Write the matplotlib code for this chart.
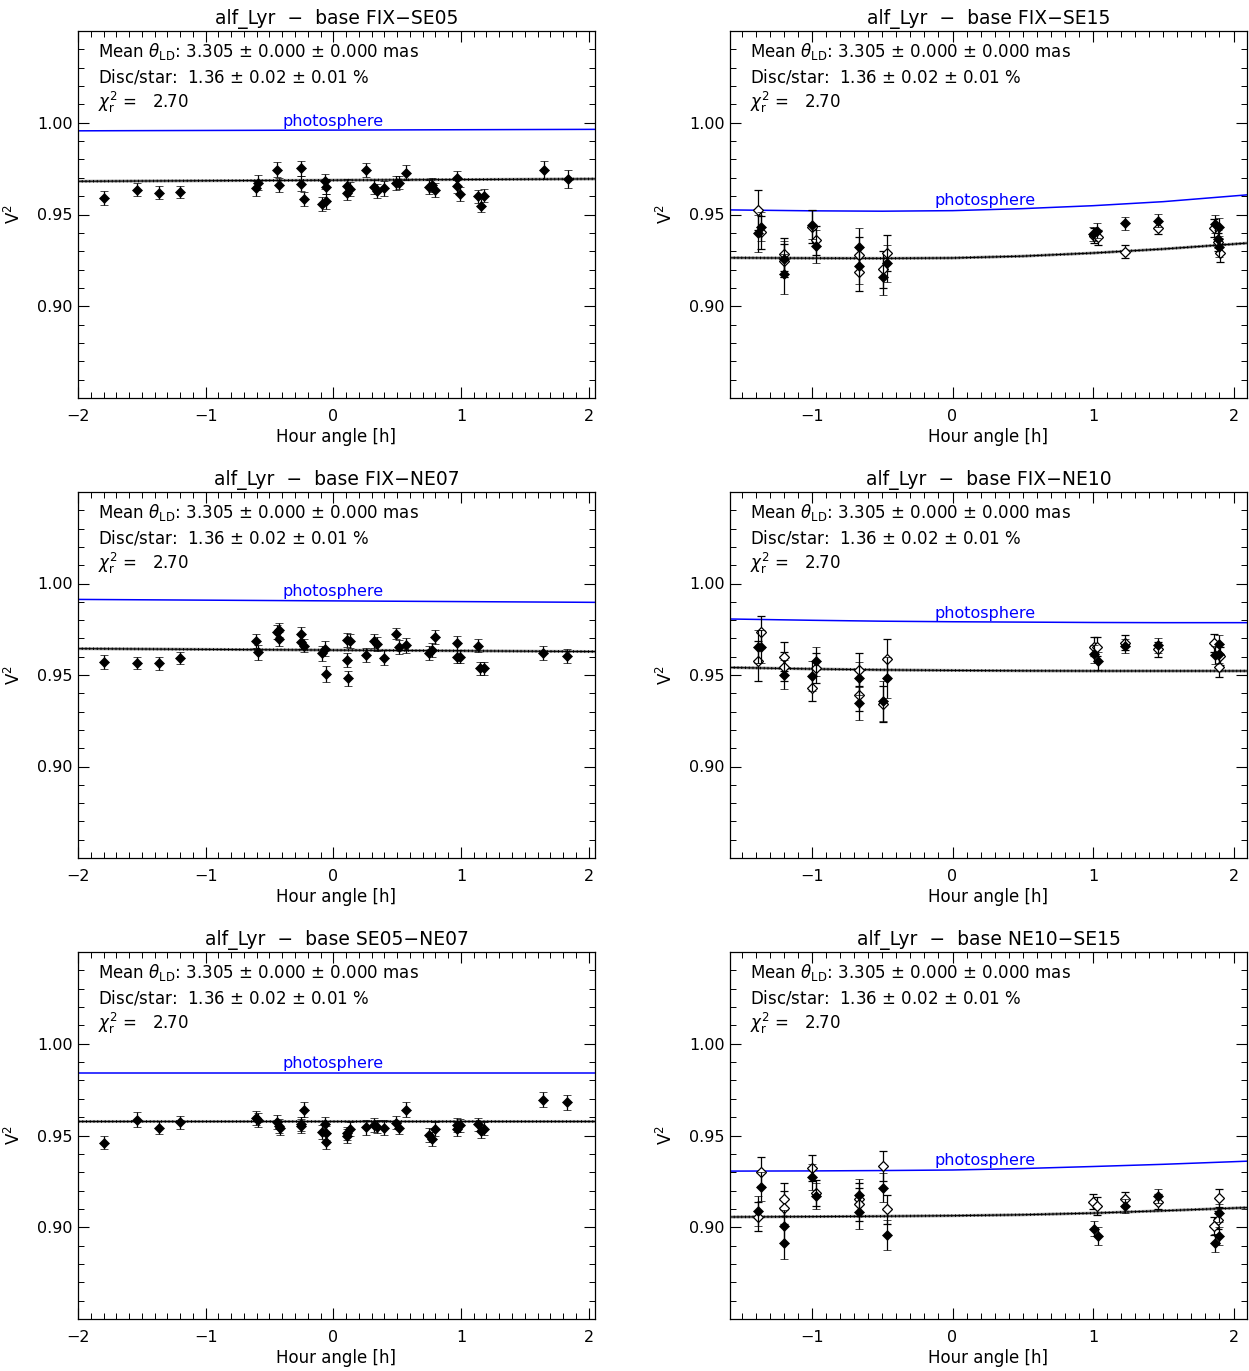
import numpy as np
import matplotlib
matplotlib.use("Agg")
import matplotlib.pyplot as plt
from matplotlib.ticker import MultipleLocator

plt.rcParams['font.family'] = ['DejaVu Sans']
plt.rcParams['mathtext.fontset'] = 'dejavusans'

# ---------------- data ----------------
titles = ["alf_Lyr  \u2212  base FIX\u2212SE05", "alf_Lyr  \u2212  base FIX\u2212SE15",
          "alf_Lyr  \u2212  base FIX\u2212NE07", "alf_Lyr  \u2212  base FIX\u2212NE10",
          "alf_Lyr  \u2212  base SE05\u2212NE07", "alf_Lyr  \u2212  base NE10\u2212SE15"]

# Panel 1: FIX-SE05 (filled only)
p1_ha = [-1.797, -1.536, -1.367, -1.20, -0.609, -0.588, -0.445, -0.422, -0.255, -0.253, -0.229,
         -0.086, -0.0625, -0.06, -0.057, 0.109, 0.107, 0.128, 0.253, 0.315, 0.341, 0.398, 0.49,
         0.516, 0.568, 0.75, 0.776, 0.797, 0.966, 0.969, 0.992, 1.133, 1.182, 1.156, 1.648, 1.841]
p1_v2 = [0.959, 0.9634, 0.9619, 0.9623, 0.9643, 0.9674, 0.9745, 0.9661, 0.9752, 0.9668, 0.9585,
         0.9557, 0.9681, 0.9652, 0.9572, 0.9657, 0.9619, 0.9638, 0.9741, 0.9652, 0.963, 0.9643, 0.9672,
         0.9674, 0.9728, 0.9652, 0.9663, 0.9632, 0.9698, 0.9657, 0.9612, 0.960, 0.9603, 0.9548, 0.9743, 0.9694]
p1_err = [0.0038, 0.0035, 0.0035, 0.0035, 0.0042, 0.0040, 0.0039, 0.0040, 0.0040, 0.0040, 0.0038,
          0.0038, 0.0040, 0.0040, 0.0040, 0.0038, 0.0038, 0.0038, 0.0038, 0.0038, 0.0038, 0.0040, 0.0036,
          0.0036, 0.0042, 0.0038, 0.0038, 0.0038, 0.0040, 0.0038, 0.0036, 0.0036, 0.0036, 0.0036, 0.0047, 0.0048]

# Panel 3: FIX-NE07
p3_ha = [-1.797, -1.539, -1.367, -1.20, -0.609, -0.588, -0.445, -0.424, -0.422, -0.255, -0.253,
         -0.229, -0.086, -0.0625, -0.055, 0.104, 0.13, 0.107, 0.112, 0.253, 0.315, 0.341, 0.401,
         0.49, 0.513, 0.568, 0.75, 0.773, 0.797, 0.966, 0.969, 0.992, 1.133, 1.151, 1.18, 1.646, 1.831]
p3_v2 = [0.957, 0.9566, 0.9563, 0.9593, 0.9686, 0.9624, 0.9737, 0.9748, 0.9697, 0.9722, 0.9682,
         0.966, 0.9619, 0.9644, 0.9506, 0.9693, 0.9684, 0.9584, 0.9481, 0.961, 0.9684, 0.967, 0.9595,
         0.9726, 0.9653, 0.9662, 0.962, 0.9637, 0.9708, 0.9673, 0.960, 0.960, 0.966, 0.9537, 0.9537, 0.962, 0.9604]
p3_err = [0.0038, 0.0035, 0.0033, 0.0033, 0.0040, 0.0040, 0.0038, 0.0038, 0.0038, 0.0038, 0.0038,
          0.0035, 0.0040, 0.0040, 0.0042, 0.0038, 0.0038, 0.0038, 0.0042, 0.0040, 0.0038, 0.0038, 0.0040,
          0.0030, 0.0036, 0.0040, 0.0040, 0.0038, 0.0038, 0.0038, 0.0036, 0.0036, 0.0036, 0.0036, 0.0036, 0.0040, 0.0040]

# Panel 5: SE05-NE07
p5_ha = [-1.797, -1.536, -1.367, -1.20, -0.609, -0.588, -0.445, -0.424, -0.42, -0.255, -0.253,
         -0.229, -0.086, -0.0625, -0.06, -0.055, 0.104, 0.109, 0.128, 0.253, 0.318, 0.341, 0.401,
         0.49, 0.513, 0.568, 0.75, 0.773, 0.797, 0.966, 0.969, 0.992, 1.133, 1.156, 1.18, 1.643, 1.831]
p5_v2 = [0.946, 0.9587, 0.9543, 0.9571, 0.9596, 0.9582, 0.9572, 0.9554, 0.954, 0.9565, 0.9553,
         0.964, 0.952, 0.9564, 0.9516, 0.9467, 0.9511, 0.9498, 0.9538, 0.9545, 0.9558, 0.9549, 0.9543,
         0.9569, 0.9543, 0.9641, 0.9504, 0.948, 0.9536, 0.9536, 0.9556, 0.9556, 0.956, 0.9522, 0.9538, 0.9696, 0.9681]
p5_err = [0.0035, 0.0040, 0.0035, 0.0035, 0.0038, 0.0038, 0.0038, 0.0038, 0.0038, 0.0038, 0.0038,
          0.0040, 0.0038, 0.0038, 0.0038, 0.0040, 0.0038, 0.0038, 0.0038, 0.0040, 0.0038, 0.0038, 0.0040,
          0.0036, 0.0036, 0.0040, 0.0038, 0.0038, 0.0038, 0.0038, 0.0038, 0.0036, 0.0036, 0.0036, 0.0036, 0.0040, 0.0040]

# Panel 2: FIX-SE15 (filled and open)
p2_ha_f = [-1.384, -1.363, -1.197, -1.197, -1.002, -0.974, -0.663, -0.663, -0.468, -0.497,
           1.002, 1.026, 1.228, 1.465, 1.868, 1.899, 1.892, 1.899]
p2_v2_f = [0.9397, 0.9433, 0.9257, 0.9177, 0.9445, 0.9327, 0.9325, 0.922, 0.9234, 0.9162,
           0.9393, 0.9412, 0.9452, 0.9466, 0.9448, 0.9433, 0.9366, 0.9321]
p2_err_f = [0.010, 0.008, 0.010, 0.011, 0.008, 0.009, 0.010, 0.010, 0.010, 0.010,
            0.004, 0.004, 0.0035, 0.0035, 0.005, 0.005, 0.005, 0.005]
p2_ha_o = [-1.384, -1.363, -1.197, -1.197, -1.002, -0.974, -0.663, -0.663, -0.468, -0.497,
           1.009, 1.033, 1.228, 1.465, 1.861, 1.892, 1.904]
p2_v2_o = [0.9525, 0.9403, 0.9284, 0.9248, 0.9433, 0.9359, 0.9279, 0.9184, 0.929, 0.9202,
           0.9384, 0.9376, 0.9297, 0.9428, 0.9428, 0.9349, 0.929]
p2_err_o = [0.011, 0.009, 0.009, 0.009, 0.009, 0.008, 0.010, 0.010, 0.010, 0.010,
            0.004, 0.004, 0.0035, 0.0035, 0.005, 0.005, 0.005]

# Panel 4: FIX-NE10
p4_ha_f = [-1.384, -1.363, -1.197, -0.974, -1.002, -0.663, -0.663, -0.468, -0.497,
           1.009, 1.033, 1.228, 1.465, 1.899, 1.868, 1.899]
p4_v2_f = [0.9655, 0.9655, 0.9501, 0.9574, 0.9495, 0.9481, 0.9346, 0.9486, 0.9359,
           0.9613, 0.9577, 0.9659, 0.9662, 0.9668, 0.961, 0.9617]
p4_err_f = [0.009, 0.009, 0.008, 0.008, 0.008, 0.009, 0.009, 0.011, 0.011,
            0.005, 0.005, 0.004, 0.004, 0.005, 0.005, 0.005]
p4_ha_o = [-1.363, -1.384, -1.197, -1.197, -0.974, -1.002, -0.663, -0.663, -0.468, -0.497,
           1.009, 1.026, 1.228, 1.465, 1.861, 1.904, 1.899]
p4_v2_o = [0.9735, 0.9577, 0.9601, 0.9546, 0.9539, 0.9428, 0.9528, 0.9392, 0.9586, 0.9341,
           0.9655, 0.9655, 0.9677, 0.9641, 0.9673, 0.9604, 0.9541]
p4_err_o = [0.009, 0.011, 0.008, 0.008, 0.008, 0.007, 0.009, 0.009, 0.011, 0.010,
            0.005, 0.005, 0.004, 0.004, 0.005, 0.005, 0.005]

# Panel 6: NE10-SE15
p6_ha_f = [-1.363, -1.384, -1.197, -1.197, -1.002, -0.974, -0.663, -0.663, -0.497, -0.468,
           1.009, 1.033, 1.228, 1.465, 1.899, 1.899, 1.868]
p6_v2_f = [0.9221, 0.9089, 0.9005, 0.8915, 0.9273, 0.917, 0.9174, 0.9083, 0.9216, 0.8958,
           0.8993, 0.8953, 0.9116, 0.917, 0.9076, 0.8953, 0.8913]
p6_err_f = [0.008, 0.008, 0.009, 0.009, 0.007, 0.007, 0.009, 0.009, 0.008, 0.008,
            0.004, 0.005, 0.004, 0.004, 0.005, 0.005, 0.005]
p6_ha_o = [-1.363, -1.384, -1.197, -1.197, -1.002, -0.974, -0.663, -0.663, -0.497, -0.468,
           1.002, 1.026, 1.228, 1.465, 1.899, 1.892, 1.861]
p6_v2_o = [0.9303, 0.9058, 0.9152, 0.9107, 0.9324, 0.9185, 0.9152, 0.9125, 0.9333, 0.9098,
           0.914, 0.9116, 0.9152, 0.914, 0.9158, 0.9038, 0.9007]
p6_err_o = [0.008, 0.008, 0.009, 0.009, 0.007, 0.007, 0.009, 0.009, 0.008, 0.008,
            0.004, 0.005, 0.004, 0.004, 0.005, 0.005, 0.005]

# Model / photosphere curves (values read at hour-angle nodes)
left_nodes = [-2.0, 0.0, 2.05]
p1_phot = [0.9956, 0.9960, 0.9964]
p1_model = [0.9681, 0.9687, 0.9694]
p3_phot = [0.9913, 0.9905, 0.9897]
p3_model = [0.9644, 0.9636, 0.9628]
p5_phot = [0.9842, 0.9842, 0.9842]
p5_model = [0.9578, 0.9578, 0.9578]

right_nodes = [-1.584, -1.0, -0.5, 0.0, 0.5, 1.0, 1.5, 2.096]
p2_phot = [0.9525, 0.9520, 0.9518, 0.9521, 0.9532, 0.9548, 0.9570, 0.9607]
p2_model = [0.9264, 0.9262, 0.9261, 0.9263, 0.9273, 0.9290, 0.9312, 0.9344]
p4_phot = [0.9806, 0.9799, 0.9794, 0.9791, 0.9789, 0.9787, 0.9786, 0.9786]
p4_model = [0.9541, 0.9533, 0.9528, 0.9525, 0.9523, 0.9522, 0.9522, 0.9522]
p6_phot = [0.9306, 0.9307, 0.9309, 0.9312, 0.9320, 0.9331, 0.9343, 0.9360]
p6_model = [0.9056, 0.9058, 0.9060, 0.9063, 0.9068, 0.9077, 0.9090, 0.9107]

info_lines = [r"Mean $\theta_{\rm LD}$: 3.305 $\pm$ 0.000 $\pm$ 0.000 mas",
              r"Disc/star:  1.36 $\pm$ 0.02 $\pm$ 0.01 %",
              r"$\chi_{\rm r}^{2}$ =   2.70"]

# ---------------- figure ----------------
W, H = 1249, 1371
fig = plt.figure(figsize=(W / 100, H / 100), dpi=100)

def px_axes(x0, y0, x1, y1):
    return fig.add_axes([x0 / W, 1 - y1 / H, (x1 - x0) / W, (y1 - y0) / H])

boxes = [(78, 31, 595, 398), (730, 31, 1247, 398),
         (78, 492, 595, 858), (730, 492, 1247, 858),
         (78, 952, 595, 1319), (730, 952, 1247, 1319)]

panels = [
    dict(nodes=left_nodes, phot=p1_phot, model=p1_model, xlim=(-2.0, 2.05), labx=0.0,
         f=(p1_ha, p1_v2, p1_err), o=None),
    dict(nodes=right_nodes, phot=p2_phot, model=p2_model, xlim=(-1.584, 2.096), labx=0.231,
         f=(p2_ha_f, p2_v2_f, p2_err_f), o=(p2_ha_o, p2_v2_o, p2_err_o)),
    dict(nodes=left_nodes, phot=p3_phot, model=p3_model, xlim=(-2.0, 2.05), labx=0.0,
         f=(p3_ha, p3_v2, p3_err), o=None),
    dict(nodes=right_nodes, phot=p4_phot, model=p4_model, xlim=(-1.584, 2.096), labx=0.231,
         f=(p4_ha_f, p4_v2_f, p4_err_f), o=(p4_ha_o, p4_v2_o, p4_err_o)),
    dict(nodes=left_nodes, phot=p5_phot, model=p5_model, xlim=(-2.0, 2.05), labx=0.0,
         f=(p5_ha, p5_v2, p5_err), o=None),
    dict(nodes=right_nodes, phot=p6_phot, model=p6_model, xlim=(-1.584, 2.096), labx=0.231,
         f=(p6_ha_f, p6_v2_f, p6_err_f), o=(p6_ha_o, p6_v2_o, p6_err_o)),
]

for i, (box, pan) in enumerate(zip(boxes, panels)):
    ax = px_axes(*box)
    ax.set_xlim(*pan['xlim'])
    ax.set_ylim(0.85, 1.05)

    # photosphere
    ax.plot(pan['nodes'], pan['phot'], color='#0000ff', lw=1.1, zorder=2)
    ph_at = np.interp(pan['labx'], pan['nodes'], pan['phot'])
    ax.annotate("photosphere", xy=(pan['labx'], ph_at), xytext=(0, 1.0),
                textcoords='offset points', ha='center', va='bottom',
                color='#0000ff', fontsize=11.5)

    # model
    ax.plot(pan['nodes'], pan['model'], color='0.65', lw=2.2, zorder=2, solid_capstyle='butt')
    ax.plot(pan['nodes'], pan['model'], color='k', lw=0.8, zorder=3)
    ax.plot(pan['nodes'], pan['model'], color='k', lw=1.8, zorder=3,
            linestyle=(0, (0.4, 1.1)), dash_capstyle='butt')

    # data
    if pan['o'] is not None:
        ha, v2, er = pan['o']
        ax.errorbar(ha, v2, yerr=er, fmt='D', ms=5.2, mfc='white', mec='k', mew=0.9,
                    ecolor='k', elinewidth=0.9, capsize=3, capthick=0.9, zorder=4)
    ha, v2, er = pan['f']
    ax.errorbar(ha, v2, yerr=er, fmt='D', ms=4.6, mfc='k', mec='k', mew=0.5,
                ecolor='k', elinewidth=0.9, capsize=3, capthick=0.9, zorder=5)

    # axes styling
    ax.xaxis.set_major_locator(MultipleLocator(1))
    ax.xaxis.set_minor_locator(MultipleLocator(0.1))
    ax.yaxis.set_major_locator(MultipleLocator(0.05))
    ax.yaxis.set_minor_locator(MultipleLocator(0.01))
    ax.tick_params(which='both', direction='in', top=True, right=True, colors='k')
    ax.tick_params(which='major', length=8, width=0.8, labelsize=11.5)
    ax.tick_params(which='minor', length=4, width=0.7)
    ax.tick_params(axis='x', pad=8)
    ax.tick_params(axis='y', pad=4)
    ax.set_yticks([0.90, 0.95, 1.00])
    ax.set_yticklabels(["0.90", "0.95", "1.00"])
    ax.set_xticks([-2, -1, 0, 1, 2])
    ax.set_xticklabels(["\u22122", "\u22121", "0", "1", "2"])
    ax.set_xlim(*pan['xlim'])
    for s in ax.spines.values():
        s.set_linewidth(0.9)

    ax.set_xlabel("Hour angle [h]", fontsize=12)
    ax.xaxis.set_label_coords(0.5, -0.083)
    ax.set_ylabel(r"V$^2$", fontsize=12)
    ax.yaxis.set_label_coords(-0.104, 0.5)
    ax.set_title(titles[i], fontsize=13.5, pad=5)

    for j, (t, yy) in enumerate(zip(info_lines, [0.943, 0.875, 0.804])):
        ax.text(0.0387, yy, t, transform=ax.transAxes, fontsize=12, ha='left', va='center')

fig.savefig("out.png", dpi=100)
